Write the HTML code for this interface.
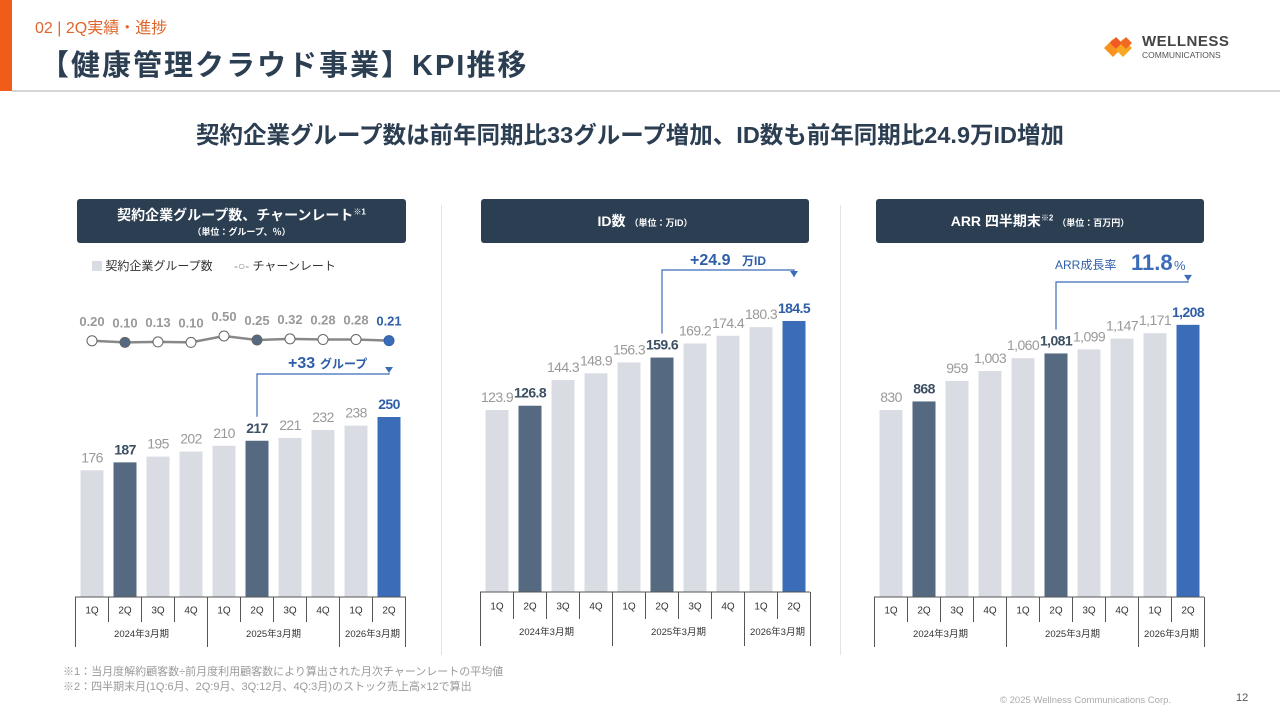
<!DOCTYPE html>
<html><head><meta charset="utf-8">
<style>
body{margin:0;width:1280px;height:720px;background:#fff;position:relative;overflow:hidden;font-family:"Liberation Sans","Noto Sans CJK JP",sans-serif;}
.abs{position:absolute;}
.hdr{position:absolute;background:#2b3e52;color:#fff;border-radius:3px;text-align:center;font-weight:bold;}
</style></head>
<body>
<div class="abs" style="left:0;top:0;width:12px;height:91px;background:#f25c19"></div>
<div class="abs" style="left:35px;top:14px;font-size:16px;color:#e0652a">02 | 2Q実績・進捗</div>
<div class="abs" style="left:40px;top:42px;font-size:29px;font-weight:bold;color:#2b3e52;letter-spacing:2px">【健康管理クラウド事業】KPI推移</div>
<div class="abs" style="left:12px;top:90px;width:1268px;height:2px;background:#d5d5d5"></div>
<div class="abs" style="left:1102px;top:33px;width:140px;height:30px">
<svg width="40" height="26" style="position:absolute;left:0;top:2px"><polygon points="2,13 11,4 20,13 11,22" fill="#f7931e"/><polygon points="12,13 21,4 30,13 21,22" fill="#f7a823"/><polygon points="8,8 14,2 20,8 14,14" fill="#f15a24"/><polygon points="18,8 24,2 30,8 24,14" fill="#f26a21"/></svg>
<div style="position:absolute;left:40px;top:0;font-size:15px;font-weight:bold;color:#444;letter-spacing:.5px">WELLNESS</div>
<div style="position:absolute;left:40px;top:17px;font-size:8.5px;color:#555">COMMUNICATIONS</div></div>
<div class="abs" style="left:0;width:1260px;top:116px;text-align:center;font-size:23.5px;font-weight:bold;color:#2b3e52">契約企業グループ数は前年同期比33グループ増加、ID数も前年同期比24.9万ID増加</div>

<div class="hdr" style="left:77px;top:199px;width:329px;height:44px"><div style="font-size:14px;margin-top:6px">契約企業グループ数、チャーンレート<sup style="font-size:8px">※1</sup></div><div style="font-size:9px">（単位：グループ、％）</div></div>
<div class="hdr" style="left:481px;top:199px;width:328px;height:44px;line-height:44px;font-size:14px">ID数 <span style="font-size:9px">（単位：万ID）</span></div>
<div class="hdr" style="left:876px;top:199px;width:328px;height:44px;line-height:44px;font-size:14px">ARR 四半期末<sup style="font-size:8px;line-height:0">※2</sup> <span style="font-size:9px">（単位：百万円）</span></div>

<div class="abs" style="left:92px;top:257px;font-size:12px;color:#333">
<span style="display:inline-block;width:10px;height:10px;background:#d9dde3;vertical-align:-1px"></span> 契約企業グループ数
<span style="margin-left:18px;color:#888">-○-</span> チャーンレート</div>

<div class="abs" style="left:441px;top:205px;width:1px;height:450px;background:#e3e3e3"></div>
<div class="abs" style="left:840px;top:205px;width:1px;height:450px;background:#e3e3e3"></div>

<div class="abs" style="left:63px;top:665px;font-size:11px;color:#999;line-height:15px">※1：当月度解約顧客数÷前月度利用顧客数により算出された月次チャーンレートの平均値<br>※2：四半期末月(1Q:6月、2Q:9月、3Q:12月、4Q:3月)のストック売上高×12で算出</div>
<div class="abs" style="left:1000px;top:695px;font-size:9.5px;color:#aaa">© 2025 Wellness Communications Corp.</div>
<div class="abs" style="left:1236px;top:692px;font-size:11px;color:#555">12</div>

<svg id="chart" class="abs" style="left:0;top:0" width="1280" height="720"></svg>
<script>
const quarters=["1Q","2Q","3Q","4Q","1Q","2Q","3Q","4Q","1Q","2Q"];
const years=["2024年3月期","2025年3月期","2026年3月期"];
const groupValues=[176,187,195,202,210,217,221,232,238,250];
const groupLabels=["176","187","195","202","210","217","221","232","238","250"];
const churnValues=[0.20,0.10,0.13,0.10,0.50,0.25,0.32,0.28,0.28,0.21];
const churnLabels=["0.20","0.10","0.13","0.10","0.50","0.25","0.32","0.28","0.28","0.21"];
const idValues=[123.9,126.8,144.3,148.9,156.3,159.6,169.2,174.4,180.3,184.5];
const idLabels=["123.9","126.8","144.3","148.9","156.3","159.6","169.2","174.4","180.3","184.5"];
const arrValues=[830,868,959,1003,1060,1081,1099,1147,1171,1208];
const arrLabels=["830","868","959","1,003","1,060","1,081","1,099","1,147","1,171","1,208"];

const NS="http://www.w3.org/2000/svg";
const svg=document.getElementById('chart');
function mk(tag,attrs,parent){const e=document.createElementNS(NS,tag);for(const k in attrs)e.setAttribute(k,attrs[k]);(parent||svg).appendChild(e);return e;}
function txt(x,y,s,size,fill,weight,anchor,parent){const t=mk('text',{x:x,y:y,'font-size':size,fill:fill,'font-weight':weight||'normal','text-anchor':anchor||'middle','font-family':'"Liberation Sans","Noto Sans CJK JP",sans-serif'},parent);t.textContent=s;return t;}
function colorFor(i){return i===9?'#3b6cb8':(i===1||i===5)?'#556a80':'#d9dde3';}
function labelColor(i){return i===9?'#2f5ea8':(i===1||i===5)?'#3d4f63':'#999';}

function barChart(name,values,labels,x0,base,scale,tableL,tableR,rowH){
  const step=33,bw=23;
  const xOf=i=>x0+i*step;
  const yOf=v=>base-v*scale;
  values.forEach((v,i)=>{
    const r=mk('rect',{x:xOf(i)-bw/2,y:yOf(v),width:bw,height:base-yOf(v),fill:colorFor(i)});
    
    
    const t=txt(xOf(i),yOf(v)-8,labels[i],14,labelColor(i),(i===1||i===5||i===9)?'bold':'normal');
    t.setAttribute('letter-spacing','-0.6');
    
    
  });
  const g=mk('g',{});
  
  
  const st={stroke:'#555','stroke-width':1};
  mk('line',Object.assign({x1:tableL,y1:base,x2:tableR,y2:base},st),g);
  for(let i=0;i<=10;i++){
    const x=xOf(i)-step/2;
    const full=(i===0||i===4||i===8||i===10);
    mk('line',Object.assign({x1:x,y1:base,x2:x,y2:base+(full?2*rowH:rowH)},st),g);
  }
  quarters.forEach((q,i)=>txt(xOf(i),base+rowH*0.65,q,10,'#333','normal','middle',g));
  const yc=[xOf(1.5),xOf(5.5),xOf(8.5)];
  years.forEach((y,i)=>txt(yc[i],base+rowH*1.6,y,9.5,'#333','normal','middle',g));
  return {xOf,yOf};
}

const c1=barChart('groups',groupValues,groupLabels,92,597,0.72,75,406,25);
const c2=barChart('ids',idValues,idLabels,497,592,1.469,480,810,27);
const c3=barChart('arr',arrValues,arrLabels,891,597,0.2253,874,1204,25);

const cy=v=>344-v*16;
const pts=churnValues.map((v,i)=>c1.xOf(i)+','+cy(v)).join(' ');
const pl=mk('polyline',{points:pts,fill:'none',stroke:'#888','stroke-width':2.5});


churnValues.forEach((v,i)=>{
  const c=mk('circle',{cx:c1.xOf(i),cy:cy(v),r:5,fill:i===9?'#3b6cb8':(i===1||i===5)?'#556a80':'#fff',stroke:i===9?'#2f5ea8':'#666','stroke-width':1});
  
  
  const t=txt(c1.xOf(i),cy(v)-15,churnLabels[i],13,i===9?'#2f5ea8':'#999','bold');
  
  
});

function bracket(name,chart,vals,i0,i1,topY,gap){
  const x0=chart.xOf(i0),x1=chart.xOf(i1);
  const p=mk('polyline',{points:`${x0},${chart.yOf(vals[i0])-gap} ${x0},${topY} ${x1},${topY} ${x1},${chart.yOf(vals[i1])-gap-20}`,fill:'none',stroke:'#3b6cb8','stroke-width':1.2});
  
  
  const y=chart.yOf(vals[i1])-gap-20;
  const a=mk('polygon',{points:`${x1-4},${y-6} ${x1+4},${y-6} ${x1},${y}`,fill:'#3b6cb8'});
  
  
}
bracket('groups',c1,groupValues,5,9,374,24);
bracket('ids',c2,idValues,5,9,270,24);
bracket('arr',c3,arrValues,5,9,282,24);

let t;
t=txt(288,368,'+33',16,'#2f5ea8','bold','start');
t=txt(320,368,'グループ',12,'#2f5ea8','bold','start');
t=txt(690,265,'+24.9',16,'#2f5ea8','bold','start');
t=txt(742,265,'万ID',12,'#2f5ea8','bold','start');
t=txt(1055,269,'ARR成長率',12,'#2f5ea8','normal','start');
t=txt(1131,270,'11.8',22,'#3b6cb8','bold','start');
t=txt(1174,270,'%',13,'#3b6cb8','normal','start');
</script>
</body></html>
